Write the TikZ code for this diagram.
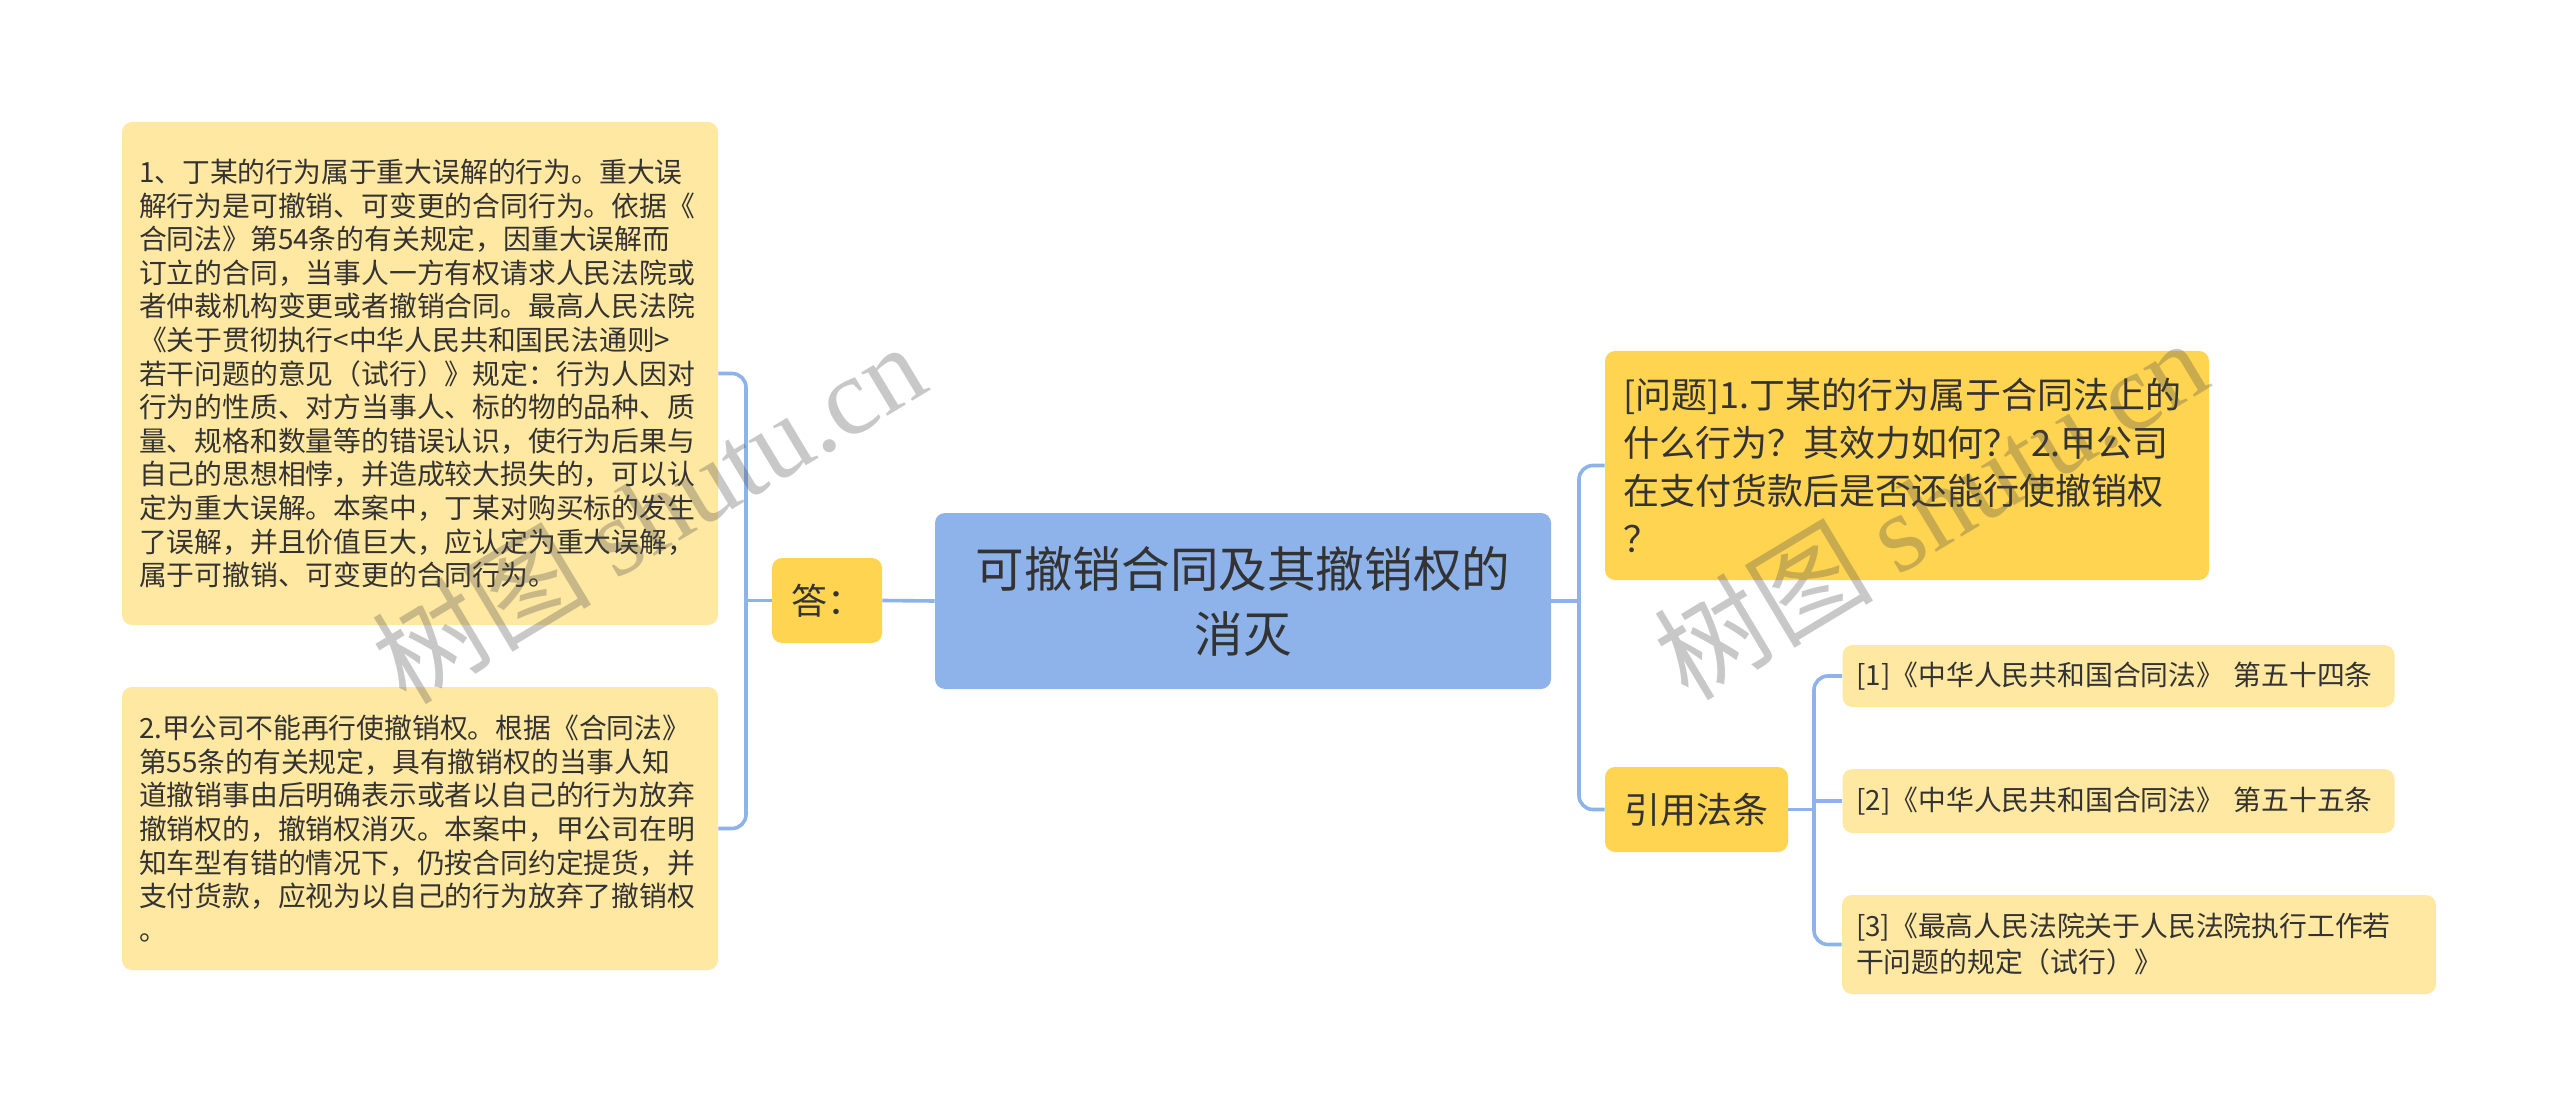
\documentclass[tikz,border=0pt]{standalone}
\usepackage{fontspec}
\usepackage{tikz}
\newfontfamily\cjk{Noto Sans CJK SC}
\newfontfamily\wmfont{Liberation Serif}
\definecolor{rootblue}{HTML}{8EB2EA}
\definecolor{subgold}{HTML}{FFD451}
\definecolor{leafyellow}{HTML}{FFE8A1}
\definecolor{linkblue}{HTML}{8EB2EA}
\definecolor{inkgray}{HTML}{333333}
\tikzset{box/.style={rectangle,rounded corners=5pt,inner ysep=0pt,text=inkgray,font=\cjk}}
\tikzset{root box/.style={box,fill=rootblue,minimum width=308pt,minimum height=88pt,align=center,font=\cjk\fontsize{24.3}{32.5}\selectfont}}
\tikzset{sub box/.style={box,fill=subgold,font=\cjk\fontsize{18}{24}\selectfont}}
\tikzset{leaf box/.style={box,fill=leafyellow,inner xsep=8.5pt,align=left,font=\cjk\fontsize{13.9}{16.8}\selectfont}}
\tikzset{link/.style={draw=linkblue,line width=1.8pt,rounded corners=7pt}}
\tikzset{watermark/.style={rotate=31,text=black!70,text opacity=0.3,font=\cjk\fontsize{55}{55}\selectfont}}

\begin{document}
\begin{tikzpicture}[x=0.5pt,y=-0.5pt]

          \fill[white] (0,0) rectangle (2560,1118);
          \useasboundingbox (0,0) rectangle (2560,1118);

          %中心
          \node[root box] (root) at (1243,601) {可撤销合同及其撤销权的\\消灭};

          %左：答
          \node[sub box, minimum width=55pt, minimum height=42.5pt, inner xsep=0pt] (ans) at (827,600.5) {答：};
          \node[leaf box, text width=281pt, minimum height=251.5pt] (ans1) at (420,373.5)
            {1、丁某的行为属于重大误解的行为。重大误\\
             解行为是可撤销、可变更的合同行为。依据《\\
             合同法》第54条的有关规定，因重大误解而\\
             订立的合同，当事人一方有权请求人民法院或\\
             者仲裁机构变更或者撤销合同。最高人民法院\\
             《关于贯彻执行<中华人民共和国民法通则>\\
             若干问题的意见（试行）》规定：行为人因对\\
             行为的性质、对方当事人、标的物的品种、质\\
             量、规格和数量等的错误认识，使行为后果与\\
             自己的思想相悖，并造成较大损失的，可以认\\
             定为重大误解。本案中，丁某对购买标的发生\\
             了误解，并且价值巨大，应认定为重大误解，\\
             属于可撤销、可变更的合同行为。};
          \node[leaf box, text width=281pt, minimum height=141.5pt] (ans2) at (420,828.5)
            {2.甲公司不能再行使撤销权。根据《合同法》\\
             第55条的有关规定，具有撤销权的当事人知\\
             道撤销事由后明确表示或者以自己的行为放弃\\
             撤销权的，撤销权消灭。本案中，甲公司在明\\
             知车型有错的情况下，仍按合同约定提货，并\\
             支付货款，应视为以自己的行为放弃了撤销权\\
             。};

          %右：问题
          \node[sub box, text width=284pt, inner xsep=9pt, minimum height=114.5pt, align=left] (quest) at (1907,465.5)
            {[问题]1.丁某的行为属于合同法上的\\
             什么行为？其效力如何？ 2.甲公司\\
             在支付货款后是否还能行使撤销权\\
             ？};

          %右：引用法条
          \node[sub box, minimum width=91.5pt, minimum height=42.5pt, inner xsep=0pt] (law) at (1696.5,809.5) {引用法条};
          \node[leaf box, text width=262pt, inner xsep=7pt, minimum height=31pt] (law1) at (2118.5,676)
            {[1]《中华人民共和国合同法》 第五十四条};
          \node[leaf box, text width=262pt, inner xsep=7pt, minimum height=32pt] (law2) at (2118.5,801)
            {[2]《中华人民共和国合同法》 第五十五条};
          \node[leaf box, text width=283pt, inner xsep=7pt, minimum height=49.5pt, font=\cjk\fontsize{13.9}{18}\selectfont] (law3) at (2139,944.5)
            {[3]《最高人民法院关于人民法院执行工作若\\
             干问题的规定（试行）》};

          %连线
          \coordinate (lfork) at (746,600.5);
          \draw[link] (root.west) -- (ans.east);
          \draw[link] (ans.west) -- (lfork);
          \draw[link] (ans1.east) -| (lfork) |- (ans2.east);

          \coordinate (rfork) at (1579,601);
          \draw[link] (root.east) -- (rfork);
          \draw[link] (quest.west) -| (rfork) |- (law.west);

          \coordinate (cfork) at (1814,809.5);
          \draw[link] (law.east) -- (cfork);
          \draw[link] (law1.west) -| (cfork) |- (law3.west);
          \draw[link] (cfork |- law2.west) -- (law2.west);

          %水印
          \node[watermark] (wmL) at (648,512) {树图 {\wmfont shutu.cn}};
          \node[watermark] (wmR) at (1930,508) {树图 {\wmfont shutu.cn}};

\end{tikzpicture}
\end{document}
